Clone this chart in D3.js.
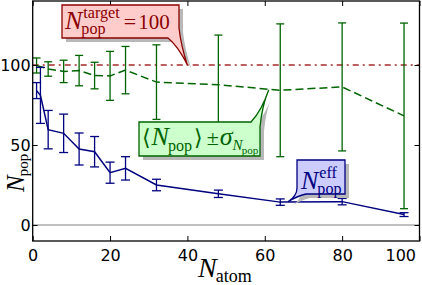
<!DOCTYPE html>
<html>
<head>
<meta charset="utf-8">
<script src="https://cdn.jsdelivr.net/npm/d3@7"></script>
<style>
  body { margin: 0; background: #fff; }
  svg { display: block; }
  .tick text { font-family: "DejaVu Sans", sans-serif; font-size: 16px; }
</style>
</head>
<body>
<div id="chart"></div>
<script>
// N_pop^eff (blue)
var effX   = [1, 2, 4, 8, 12, 16, 20, 24, 32, 48, 64, 80, 96];
var effY   = [84, 81, 59.6, 57.3, 47.5, 45.8, 32.7, 35.4, 25, 19.5, 14.3, 14.6, 6.5];
var effErr = [5, 17.5, 12, 12, 10, 9.5, 6.6, 7.3, 3.6, 2.3, 2, 2, 1.2];

// <N_pop> +- sigma (green)
var meanX   = [1, 4, 8, 12, 16, 20, 24, 32, 48, 64, 80, 96];
var meanY   = [99.7, 97.5, 96, 96.5, 93.4, 93.2, 96.8, 89.3, 87.7, 84.2, 86.3, 68.2];
var meanErr = [4.7, 4.5, 7, 9.5, 8.3, 15.3, 14.8, 23.3, 31, 41.5, 40, 58];

var target = 100;
var xTicks = [0, 20, 40, 60, 80, 100];
var yTicks = [0, 50, 100];

var W = 422, H = 285;
var svg = d3.select("#chart").append("svg")
    .attr("width", W).attr("height", H);

var x = d3.scaleLinear().domain([0, 100]).range([32.7, 419.5]);
var y = d3.scaleLinear().domain([-10, 140]).range([241, 1]);

var serif = "'Liberation Serif', 'DejaVu Serif', serif";

// zero line
svg.append("line")
    .attr("x1", x(0)).attr("x2", x(100))
    .attr("y1", y(0)).attr("y2", y(0))
    .style("stroke", "#808080").style("stroke-width", 1);

// target line
svg.append("line")
    .attr("x1", x(0)).attr("x2", x(100))
    .attr("y1", y(target)).attr("y2", y(target))
    .style("stroke", "#a52a2a").style("stroke-width", 1.5)
    .style("stroke-dasharray", "6,4,2,4");

function errorBars(xs, ys, es, color, cap) {
  var g = svg.append("g").style("stroke", color).style("stroke-width", 1.3);
  xs.forEach(function(d, i) {
    var cx = x(d), top = y(ys[i] + es[i]), bot = y(ys[i] - es[i]);
    g.append("line").attr("x1", cx).attr("x2", cx).attr("y1", top).attr("y2", bot);
    g.append("line").attr("x1", cx - cap).attr("x2", cx + cap).attr("y1", top).attr("y2", top);
    g.append("line").attr("x1", cx - cap).attr("x2", cx + cap).attr("y1", bot).attr("y2", bot);
  });
}

var line = d3.line()
    .x(function(d) { return x(d[0]); })
    .y(function(d) { return y(d[1]); });

// green series
errorBars(meanX, meanY, meanErr, "#006400", 4);
svg.append("path")
    .datum(meanX.map(function(d, i) { return [d, meanY[i]]; }))
    .attr("d", line)
    .style("fill", "none").style("stroke", "#006400").style("stroke-width", 1.5)
    .style("stroke-dasharray", "8,4");

// blue series
errorBars(effX, effY, effErr, "#000080", 4.5);
svg.append("path")
    .datum(effX.map(function(d, i) { return [d, effY[i]]; }))
    .attr("d", line)
    .style("fill", "none").style("stroke", "#000080").style("stroke-width", 1.5);

// axes (ticks inward)
svg.append("g").attr("transform", "translate(0," + y(-10) + ")")
    .call(d3.axisBottom(x).tickValues(xTicks).tickSize(-5).tickPadding(9).tickSizeOuter(0))
    .call(function(g) {
      g.select(".domain").remove();
      g.selectAll(".tick text").filter(function(d) { return d === 100; })
          .attr("text-anchor", "end").attr("dx", -4);
    });
svg.append("g").attr("transform", "translate(0," + y(140) + ")")
    .call(d3.axisTop(x).tickValues(xTicks).tickSize(-5).tickFormat("").tickSizeOuter(0))
    .call(function(g) { g.select(".domain").remove(); });
svg.append("g").attr("transform", "translate(" + x(0) + ",0)")
    .call(d3.axisLeft(y).tickValues(yTicks).tickSize(-5).tickPadding(2).tickSizeOuter(0))
    .call(function(g) { g.select(".domain").remove(); });
svg.append("g").attr("transform", "translate(" + x(100) + ",0)")
    .call(d3.axisRight(y).tickValues(yTicks).tickSize(-5).tickFormat("").tickSizeOuter(0))
    .call(function(g) { g.select(".domain").remove(); });

svg.append("rect")
    .attr("x", x(0)).attr("y", y(140))
    .attr("width", x(100) - x(0)).attr("height", y(-10) - y(140))
    .style("fill", "none").style("stroke", "#000").style("stroke-width", 1.3);

// math text helper: italic base with sup/sub, returns end x
function txt(g, s, px, py, size, color, italic) {
  var t = g.append("text").attr("x", px).attr("y", py).text(s)
      .style("font-family", serif).style("font-size", size + "px")
      .style("font-style", italic ? "italic" : "normal").style("fill", color);
  return px + t.node().getComputedTextLength();
}
function sym(g, px, py, size, color, base, sup, sub) {
  var e = txt(g, base, px, py, size, color, true);
  var s1 = sup ? txt(g, sup, e + 1, py - size * 0.42, size * 0.62, color, false) : e;
  var s2 = sub ? txt(g, sub, e - 1, py + size * 0.22, size * 0.62, color, false) : e;
  return Math.max(s1, s2);
}

function callout(d, fill, stroke) {
  svg.append("path").attr("d", d).attr("transform", "translate(4,4)")
      .style("fill", "#b8b8b8").style("stroke", "none");
  svg.append("path").attr("d", d)
      .style("fill", fill).style("stroke", stroke).style("stroke-width", 1.3);
}

// target callout
callout("M62,5 H179 V28 Q181,46 " + x(40) + "," + y(target) + " Q178,46 168,38 H62 Z", "#ffcccc", "#8b0000");
var gr = svg.append("g");
var e = sym(gr, 65, 28.5, 26, "#8b0000", "N", "target", "pop");
e = txt(gr, "=", e + 4, 28.5, 22, "#8b0000", false);
txt(gr, "100", e + 2, 28.5, 21, "#8b0000", false);

// mean callout
callout("M139,122 H251 Q262,110 " + x(61) + "," + y(84.4) + " Q262,106 260,127 V156 H139 Z", "#ccffcc", "#006400");
var gg = svg.append("g");
e = txt(gg, "\u27E8", 142, 145, 22, "#006400", false);
e = sym(gg, e + 1, 145, 26, "#006400", "N", null, "pop");
e = txt(gg, "\u27E9", e + 2, 145, 22, "#006400", false);
e = txt(gg, "\u00B1", e + 4, 145, 22, "#006400", false);
e = txt(gg, "\u03C3", e + 1, 145, 26, "#006400", true);
e = txt(gg, "N", e, 150, 15, "#006400", true);
txt(gg, "pop", e - 1, 153.5, 11, "#006400", false);

// eff callout
callout("M297,160 H345 V194 H306 Q297,196 " + x(66) + "," + y(14.5) + " Q297,196 297,188 Z", "#ccccff", "#000080");
var gb = svg.append("g");
sym(gb, 301, 188.5, 26, "#000080", "N", "eff", "pop");

// axis labels
var gx = svg.append("g");
e = txt(gx, "N", 198, 277, 28, "#000", true);
txt(gx, "atom", e - 1, 282, 18, "#000", false);

var gy = svg.append("g").attr("transform", "translate(24,192) rotate(-90)");
e = txt(gy, "N", 0, 0, 25, "#000", true);
txt(gy, "pop", e - 1, 3.5, 15, "#000", false);
</script>
</body>
</html>
